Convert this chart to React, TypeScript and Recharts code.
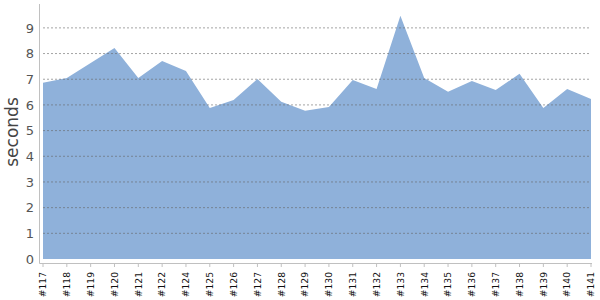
import { Area, AreaChart, ReferenceLine, XAxis, YAxis } from "recharts";

const builds = [
  "#117", "#118", "#119", "#120", "#121", "#122", "#124", "#125",
  "#126", "#127", "#128", "#129", "#130", "#131", "#132", "#133",
  "#134", "#135", "#136", "#137", "#138", "#139", "#140", "#141",
];
const seconds = [
  6.86, 7.05, 7.63, 8.22, 7.05, 7.71, 7.32, 5.88,
  6.19, 7.01, 6.12, 5.77, 5.92, 6.97, 6.62, 9.47,
  7.05, 6.51, 6.93, 6.58, 7.21, 5.88, 6.62, 6.23,
];
const yTicks = [0, 1, 2, 3, 4, 5, 6, 7, 8, 9];

const data = builds.map((build, i) => ({ build, seconds: seconds[i] }));

const FONT = "'DejaVu Sans', Verdana, sans-serif";
const AXIS = "#c0c0c0";

function BuildTick({ x, y, payload }: any) {
  return (
    <g>
      <line x1={x} x2={x} y1={y + 4} y2={y + 8} stroke={AXIS} />
      <text
        x={x + 3.3}
        y={y + 13}
        transform={`rotate(-90, ${x + 3.3}, ${y + 13})`}
        textAnchor="end"
        fontSize={9.2}
        fontFamily={FONT}
        fill="#111"
      >
        {payload.value}
      </text>
    </g>
  );
}

function SecondsTick({ x, y, payload }: any) {
  return (
    <text
      x={x}
      y={y}
      dy="0.36em"
      textAnchor="end"
      fontSize={13}
      fontFamily={FONT}
      fill="#555"
    >
      {payload.value}
    </text>
  );
}

export default function App() {
  return (
    <div
      style={{
        position: "absolute",
        left: 0,
        top: 0,
        width: 600,
        height: 300,
        background: "#fff",
      }}
    >
      <AreaChart
        width={600}
        height={300}
        data={data}
        margin={{ top: 4, right: 9, left: 0, bottom: 0 }}
      >
        <XAxis
          dataKey="build"
          height={41}
          interval={0}
          axisLine={false}
          tickLine={false}
          tickSize={0}
          tickMargin={0}
          tick={BuildTick}
        />
        <YAxis
          width={43}
          domain={[0, 9.93]}
          ticks={yTicks}
          allowDataOverflow
          axisLine={false}
          tickLine={false}
          tickSize={0}
          tickMargin={9}
          tick={SecondsTick}
          label={{
            content: () => (
              <text
                x={17.5}
                y={132}
                transform="rotate(-90, 17.5, 132)"
                textAnchor="middle"
                fontSize={17}
                fontFamily={FONT}
                fill="#444"
              >
                seconds
              </text>
            ),
          }}
        />
        <Area
          type="linear"
          dataKey="seconds"
          stroke="none"
          fill="#8fb1da"
          fillOpacity={1}
          isAnimationActive={false}
        />
        {yTicks.slice(1).map((t) => (
          <ReferenceLine
            key={t}
            y={t}
            stroke="#666"
            strokeOpacity={0.6}
            strokeDasharray="2 2"
          />
        ))}
      </AreaChart>
      <svg
        width={600}
        height={300}
        style={{ position: "absolute", left: 0, top: 0, pointerEvents: "none" }}
      >
        <line x1={39.5} x2={39.5} y1={4} y2={263.5} stroke={AXIS} />
        <line x1={39.5} x2={592} y1={263.5} y2={263.5} stroke={AXIS} />
      </svg>
    </div>
  );
}
